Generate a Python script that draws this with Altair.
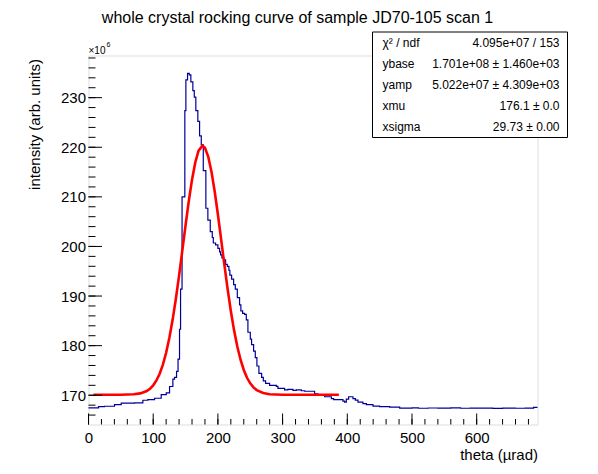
import altair as alt
import pandas as pd

FONT = "Liberation Sans"

# histogram outline (step breakpoints): theta in µrad, intensity in units of 1e6
hist_x = [0, 15.5, 24.7, 40.2, 50.6, 71.1, 84.0, 91.7, 102.1, 112.4, 120.2, 125.3,
          130.4, 133.0, 136.1, 138.4, 140.7, 142.3, 144.6, 148.9, 150.5, 153.1, 155.7,
          158.2, 161.3, 163.5, 165.9, 169.0, 171.7, 174.3, 177.4, 181.4, 184.5, 188.2,
          191.3, 192.9, 196.4, 200.0, 202.6, 204.1, 206.2, 209.2, 211.9, 214.5, 217.0,
          218.5, 221.2, 224.3, 226.9, 230.0, 233.5, 235.5, 238.2, 241.3, 243.9, 246.4,
          250.1, 252.1, 255.2, 257.8, 260.3, 263.4, 267.6, 270.2, 273.7, 279.9, 290.3,
          292.8, 303.1, 308.2, 316.0, 321.2, 328.9, 334.1, 349.5, 354.6, 365.0, 375.4,
          378.9, 393.3, 395.9, 398.5, 402.1, 406.3, 408.8, 412.5, 416.5, 424.2, 429.5,
          439.7, 450.0, 465.5, 481.0, 500, 510, 525, 540, 560, 575, 590, 610, 625, 640,
          660, 675, 688, 694]
hist_y = [167.44, 167.72, 167.78, 168.12, 168.39, 168.45, 168.99, 169.13, 169.39, 170.14,
          170.46, 171.76, 173.23, 173.6, 174.8, 177.3, 183.3, 191.4, 210.0, 227.4, 233.6,
          234.9, 234.6, 233.2, 231.4, 230.1, 227.4, 225.2, 222.3, 220.5, 215.3, 207.7,
          205.3, 203.0, 201.8, 200.7, 200.3, 199.6, 198.9, 198.3, 197.7, 197.3, 196.4,
          196.0, 195.2, 194.2, 193.4, 192.3, 191.4, 189.7, 188.2, 187.0, 186.5, 186.3,
          185.2, 182.7, 181.3, 180.2, 178.9, 177.6, 175.9, 174.4, 173.6, 172.9, 172.4,
          172.0, 171.8, 171.4, 171.1, 171.2, 171.0, 171.1, 170.9, 170.8, 170.3, 170.0,
          169.7, 169.3, 169.1, 168.8, 168.6, 169.2, 169.7, 169.7, 169.3, 169.0, 168.6,
          168.3, 168.1, 167.8, 167.7, 167.6, 167.4, 167.45, 167.38, 167.43, 167.40,
          167.45, 167.38, 167.42, 167.40, 167.36, 167.40, 167.38, 167.42, 167.55, 167.55]

# fitted gaussian curve as drawn (theta in µrad, intensity in units of 1e6)
fit_x = [7.7, 50, 70, 80, 90, 95, 100, 105, 110, 115, 120, 125, 130, 135, 140, 145, 150,
         155, 160, 165, 170, 176.1, 180, 185, 190, 195, 200, 205, 210, 215, 220, 225, 230,
         235, 240, 245, 250, 255, 260, 270, 280, 300, 387]
fit_y = [170.1, 170.1, 170.19, 170.37, 170.86, 171.32, 172.0, 172.98, 174.34, 176.18,
         178.57, 181.57, 185.2, 189.41, 194.13, 199.16, 204.26, 209.14, 213.47, 216.94,
         219.27, 220.32, 219.89, 218.12, 215.13, 211.13, 206.45, 201.41, 196.32, 191.44,
         186.98, 183.08, 179.81, 177.16, 175.09, 173.52, 172.39, 171.58, 171.04, 170.44,
         170.21, 170.1, 170.1]

x_major = [0, 100, 200, 300, 400, 500, 600]
x_minor = list(range(0, 694, 20))
y_major = [170, 180, 190, 200, 210, 220, 230]
y_minor = list(range(166, 239, 2))

title_text = "whole crystal rocking curve of sample JD70-105 scan 1"
stat_names = ["χ² / ndf", "ybase", "yamp", "xmu", "xsigma"]
stat_vals = ["4.095e+07 / 153", "1.701e+08 ± 1.460e+03", "5.022e+07 ± 4.309e+03",
             "176.1 ± 0.0", "29.73 ± 0.00"]

W, H = 449, 369
xscale = alt.Scale(domain=[0, 694], nice=False, zero=False)
yscale = alt.Scale(domain=[164.1, 238.5], nice=False, zero=False)

xaxis = alt.Axis(values=x_major, title="theta (µrad)", grid=False, domain=False, tickSize=0,
                 labelPadding=6, labelFontSize=15, labelFont=FONT, labelColor="black",
                 labelFlush=False, labelOverlap=False,
                 titleFont=FONT, titleFontSize=15, titleFontWeight="normal", titleColor="black",
                 titleX=W, titleY=35, titleAlign="right", titleBaseline="alphabetic",
                 format="d")
yaxis = alt.Axis(values=y_major, title="intensity (arb. units)", grid=False, domain=False,
                 tickSize=0, labelPadding=3, labelFontSize=15, labelFont=FONT,
                 labelColor="black", labelFlush=False, labelOverlap=False,
                 titleFont=FONT, titleFontSize=15,
                 titleFontWeight="normal", titleColor="black", titleX=-54, titleY=3,
                 titleAngle=270, titleAlign="right", titleBaseline="middle", format="d")


def X():
    return alt.X("x:Q", scale=xscale, axis=xaxis)


def Y():
    return alt.Y("y:Q", scale=yscale, axis=yaxis)


hist_df = pd.DataFrame({"x": hist_x, "y": hist_y})
fit_df = pd.DataFrame({"x": fit_x, "y": fit_y})

hist = alt.Chart(hist_df).mark_line(interpolate="step-after", color="#000099",
                                    strokeWidth=1.2).encode(x=X(), y=Y())
fit = alt.Chart(fit_df).mark_line(color="#ff0000", strokeWidth=2.6).encode(x=X(), y=Y())

xmaj = alt.Chart(pd.DataFrame({"x": x_major})).mark_rule(color="black", strokeWidth=1).encode(
    x=X(), y=alt.value(H), y2=alt.value(H - 11))
xmin = alt.Chart(pd.DataFrame({"x": x_minor})).mark_rule(color="black", strokeWidth=1).encode(
    x=X(), y=alt.value(H), y2=alt.value(H - 5.5))
ymaj = alt.Chart(pd.DataFrame({"y": y_major})).mark_rule(color="black", strokeWidth=1).encode(
    y=Y(), x=alt.value(0), x2=alt.value(13.5))
ymin = alt.Chart(pd.DataFrame({"y": y_minor})).mark_rule(color="black", strokeWidth=1).encode(
    y=Y(), x=alt.value(0), x2=alt.value(7))

one = pd.DataFrame({"a": [0]})
title = alt.Chart(one).mark_text(text=title_text, font=FONT, fontSize=16, align="center",
                                 baseline="alphabetic", color="black").encode(
    x=alt.value(209), y=alt.value(-33))
exp_main = alt.Chart(one).mark_text(text="×10", font=FONT, fontSize=10, align="left",
                                    baseline="alphabetic", color="black").encode(
    x=alt.value(0), y=alt.value(-2))
exp_sup = alt.Chart(one).mark_text(text="6", font=FONT, fontSize=7, align="left",
                                   baseline="alphabetic", color="black").encode(
    x=alt.value(18), y=alt.value(-9))

box = alt.Chart(one).mark_rect(fill="white", stroke="black", strokeWidth=1).encode(
    x=alt.value(284), x2=alt.value(479), y=alt.value(-23.5), y2=alt.value(82))

layers = [hist, fit, xmaj, xmin, ymaj, ymin, title, exp_main, exp_sup, box]
row_y = [-12.5, 8.5, 29.5, 50.5, 71.5]
for name, val, ry in zip(stat_names, stat_vals, row_y):
    d = pd.DataFrame({"n": [name], "v": [val]})
    layers.append(alt.Chart(d).mark_text(font=FONT, fontSize=12, align="left",
                                         baseline="middle", color="black").encode(
        text="n:N", x=alt.value(294), y=alt.value(ry)))
    layers.append(alt.Chart(d).mark_text(font=FONT, fontSize=12, align="right",
                                         baseline="middle", color="black").encode(
        text="v:N", x=alt.value(471), y=alt.value(ry)))

chart = alt.layer(*layers).properties(
    width=W, height=H,
    autosize=alt.AutoSizeParams(type="none"),
    padding={"left": 80.5, "top": 47.5, "right": 52, "bottom": 41},
).configure_view(stroke="black", strokeWidth=1).configure(background="white")

chart.save("out.html", embed_options={"renderer": "svg", "actions": False})
